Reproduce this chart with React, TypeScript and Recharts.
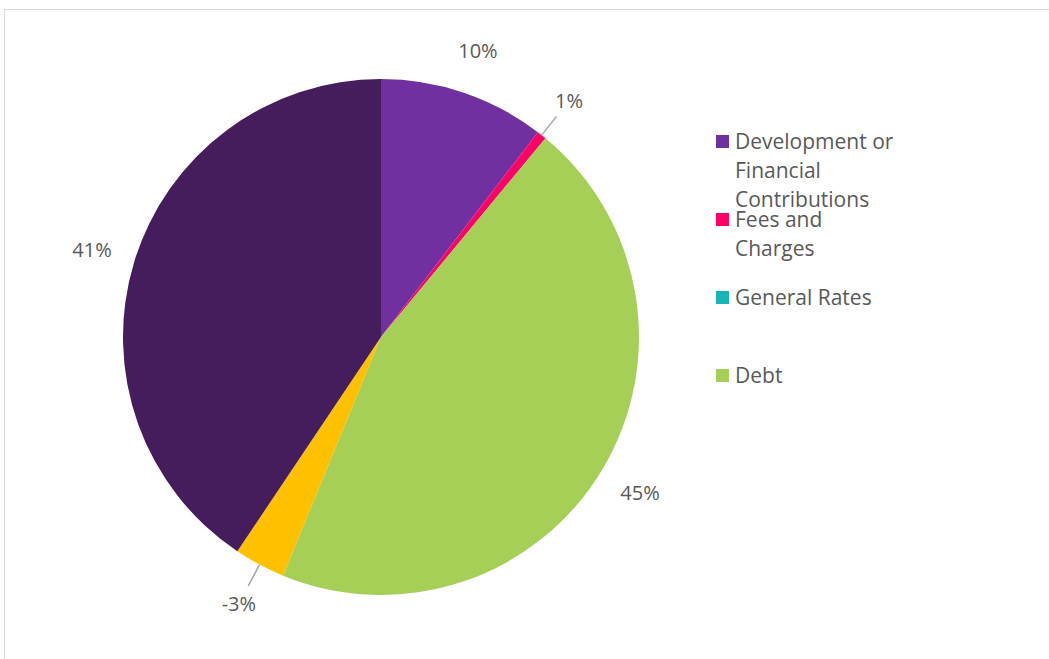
import { PieChart, Pie, Cell, Legend } from 'recharts';

const categories = [
  'Development or Financial Contributions',
  'Fees and Charges',
  'General Rates',
  'Debt',
  'Reserves',
  'Rates Funding',
];
const shares = [10.4, 0.6, 0, 45.2, -3.2, 40.6];
const colors = ['#7030a0', '#ff0066', '#17b6b6', '#a6cf58', '#ffc000', '#451c5c'];
// only the first four fit in the legend box
const legendCount = 4;

const total = shares.reduce((s, v) => s + Math.abs(v), 0);
const data = categories.map((name, i) => ({ name, value: Math.abs(shares[i]), share: shares[i] }));

const RAD = Math.PI / 180;
const FONT = '"Open Sans", sans-serif';

function renderLabel(props: any) {
  const { cx, cy, midAngle, outerRadius, index } = props;
  const v = shares[index];
  if (v === 0) return null;
  const pct = Math.round((v / total) * 100);
  const cos = Math.cos(-midAngle * RAD);
  const sin = Math.sin(-midAngle * RAD);
  const r = outerRadius + 44;
  const x = cx + r * cos;
  const y = cy + r * sin;
  const small = Math.abs(v) / total < 0.05;
  return (
    <g>
      {small && (
        <line
          x1={cx + outerRadius * cos}
          y1={cy + outerRadius * sin}
          x2={cx + (outerRadius + 24) * cos}
          y2={cy + (outerRadius + 24) * sin}
          stroke="#a6a6a6"
          strokeWidth={1.5}
        />
      )}
      <text x={x} y={y} fill="#595959" fontSize={20} fontFamily={FONT} textAnchor="middle" dominantBaseline="central">
        {pct}%
      </text>
    </g>
  );
}

function LegendBox() {
  return (
    <div style={{ fontFamily: FONT, fontSize: 21, color: '#595959' }}>
      {categories.slice(0, legendCount).map((name, i) => (
        <div key={name} style={{ height: 78, display: 'flex', alignItems: 'flex-start' }}>
          <div style={{ width: 13, height: 13, background: colors[i], marginTop: 8, marginRight: 6, flexShrink: 0 }} />
          <div style={{ width: 165, lineHeight: '29px' }}>{name}</div>
        </div>
      ))}
    </div>
  );
}

export default function App() {
  return (
    <div style={{ position: 'fixed', left: 0, top: 0, width: 1049, height: 659, overflow: 'hidden', background: '#fff' }}>
      <div
        style={{
          position: 'absolute',
          left: 4,
          top: 9,
          width: 1100,
          height: 700,
          border: '1px solid #d9d9d9',
        }}
      />
      <div style={{ position: 'absolute', left: 0, top: 0 }}>
        <PieChart width={1049} height={659} margin={{ top: 0, right: 0, bottom: 0, left: 0 }}>
          <Pie
            data={data}
            dataKey="value"
            nameKey="name"
            cx={381}
            cy={337}
            outerRadius={258}
            startAngle={90}
            endAngle={-270}
            stroke="none"
            label={renderLabel}
            labelLine={false}
            isAnimationActive={false}
          >
            {data.map((d, i) => (
              <Cell key={d.name} fill={colors[i]} />
            ))}
          </Pie>
          <Legend
            content={() => <LegendBox />}
            wrapperStyle={{ position: 'absolute', left: 716, top: 127, width: 220 }}
          />
        </PieChart>
      </div>
    </div>
  );
}
